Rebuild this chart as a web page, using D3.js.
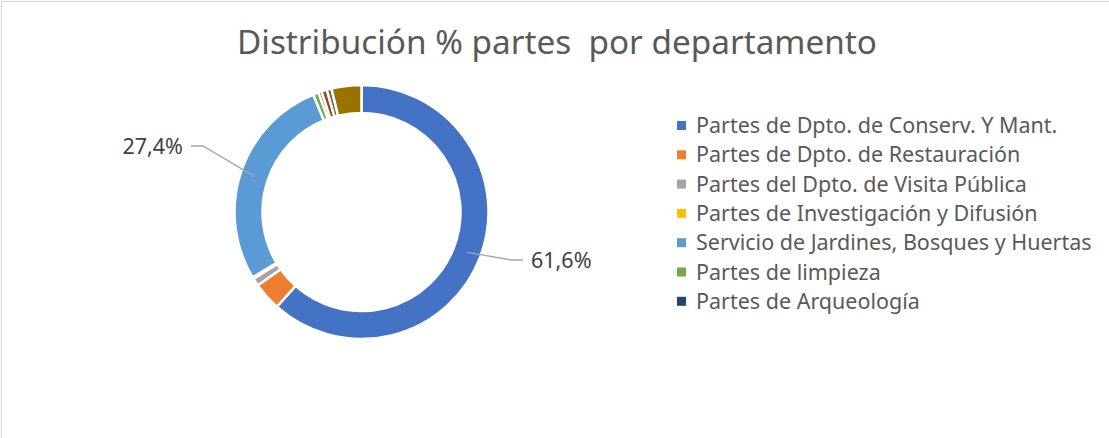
<!DOCTYPE html>
<html>
  <head>
    <meta charset="utf-8">
    <title>Distribución % partes por departamento</title>
    <script src="https://d3js.org/d3.v7.min.js"></script>
    <style>
      body { margin: 0; background: #fff; }
      svg { display: block; font-family: "Noto Sans", sans-serif; }
    </style>
  </head>
  <body>
    <div id="chart"></div>
    <script>
      // chart data (percent of total)
      const departamentos = [
        "Partes de Dpto. de Conserv. Y Mant.",
        "Partes de Dpto. de Restauración",
        "Partes del Dpto. de Visita Pública",
        "Partes de Investigación y Difusión",
        "Servicio de Jardines, Bosques y Huertas",
        "Partes de limpieza",
        "Partes de Arqueología",
        "Serie 8",
        "Serie 9",
        "Serie 10"
      ];
      const porcentajes = [61.6, 3.6, 1.0, 0.2, 27.4, 0.7, 0.4, 0.7, 0.6, 3.8];
      const colores = ["#4472C4", "#ED7D31", "#A5A5A5", "#FFC000", "#5B9BD5",
                       "#70AD47", "#264478", "#9E480E", "#636363", "#997300"];
      const legendCount = 7; // only the first seven fit in the legend

      const width = 1109, height = 438;
      const cx = 361.5, cy = 212;
      const outerR = 127, innerR = 99;

      const svg = d3.select("#chart").append("svg")
        .attr("width", width)
        .attr("height", height);

      // outer frame
      svg.append("rect")
        .attr("x", 1.5).attr("y", 1.5)
        .attr("width", width + 10).attr("height", height + 10)
        .attr("fill", "none")
        .attr("stroke", "#d9d9d9")
        .attr("stroke-width", 1.2);

      // title
      svg.append("text")
        .attr("x", 557).attr("y", 54)
        .attr("text-anchor", "middle")
        .attr("font-size", 32)
        .attr("fill", "#595959")
        .attr("textLength", 640)
        .attr("lengthAdjust", "spacingAndGlyphs")
        .style("white-space", "pre")
        .text("Distribución % partes  por departamento");

      const pie = d3.pie().sort(null).value(function(d) { return d; });
      const arcs = pie(porcentajes);
      const arc = d3.arc().innerRadius(innerR).outerRadius(outerR);
      const midArc = d3.arc().innerRadius(113).outerRadius(113);

      const g = svg.append("g")
        .attr("transform", "translate(" + cx + "," + cy + ")");

      g.selectAll(".slice")
          .data(arcs)
        .enter().append("path")
          .classed("slice", true)
          .attr("d", arc)
          .attr("fill", function(d, i) { return colores[i]; })
          .attr("stroke", "#fff")
          .attr("stroke-width", 2.5)
          .attr("stroke-linejoin", "round");

      // data labels for the big slices, with leader lines
      const fmt = function(v) { return d3.format(".1f")(v).replace(".", ",") + "%"; };
      const labelAt = {
        0: { x: 531, y: 260, anchor: "start", elbow: [511.5, 260], end: [523, 260] },
        4: { x: 183, y: 146, anchor: "end", elbow: [203, 146], end: [191, 146] }
      };
      arcs.forEach(function(d, i) {
        const l = labelAt[i];
        if (!l) return;
        const c = midArc.centroid(d);
        svg.append("polyline")
          .attr("points", [[cx + c[0], cy + c[1]], l.elbow, l.end].map(function(p) { return p.join(","); }).join(" "))
          .attr("fill", "none")
          .attr("stroke", "#a6a6a6")
          .attr("stroke-width", 1.3);
        svg.append("text")
          .attr("x", l.x).attr("y", l.y)
          .attr("dy", "0.35em")
          .attr("text-anchor", l.anchor)
          .attr("font-size", 21.5)
          .attr("fill", "#404040")
          .text(fmt(d.data));
      });

      // legend
      const legend = svg.append("g");
      const rows = legend.selectAll(".legendRow")
          .data(departamentos.slice(0, legendCount))
        .enter().append("g")
          .classed("legendRow", true)
          .attr("transform", function(d, i) { return "translate(677," + (125.5 + i * 29.3) + ")"; });
      rows.append("rect")
        .attr("x", 0).attr("y", -4.5)
        .attr("width", 9).attr("height", 9)
        .attr("fill", function(d, i) { return colores[i]; });
      rows.append("text")
        .attr("x", 19).attr("y", 0)
        .attr("dy", "0.35em")
        .attr("font-size", 21.5)
        .attr("fill", "#595959")
        .text(function(d) { return d; });
    </script>
  </body>
</html>
